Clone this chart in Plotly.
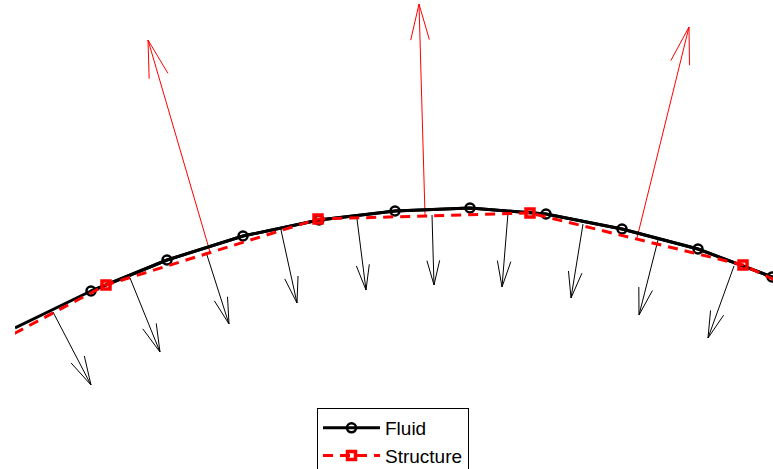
import numpy as np
import plotly.graph_objects as go

# ---- data (x to the right, y upwards) ----
fluid_x = [0.15, 0.91, 1.67, 2.43, 3.19, 3.95, 4.70, 5.46, 6.22, 6.98, 7.72, 8.48]
fluid_y = [1.41, 1.78, 2.09, 2.33, 2.49, 2.58, 2.61, 2.55, 2.40, 2.20, 1.92, 1.57]

struct_x = [-1.06, 1.06, 3.18, 5.30, 7.43, 9.55]
struct_y = [0.72, 1.84, 2.50, 2.56, 2.04, 1.04]

# fluid loads (black arrows): tails and vectors
load_x = [0.53, 1.30, 2.06, 2.81, 3.57, 4.32, 5.08, 5.83, 6.58, 7.34]
load_y = [1.57, 1.91, 2.17, 2.39, 2.50, 2.54, 2.56, 2.45, 2.29, 2.03]
load_u = [0.38, 0.30, 0.23, 0.16, 0.09, 0.02, -0.06, -0.12, -0.19, -0.26]
load_v = [-0.73, -0.74, -0.72, -0.73, -0.71, -0.70, -0.74, -0.74, -0.75, -0.72]

# structure forces (red arrows): tails and vectors
force_x = [2.10, 4.25, 6.37]
force_y = [2.17, 2.54, 2.31]
force_u = [-0.62, -0.06, 0.52]
force_v = [2.12, 2.11, 2.11]

X_RANGE = [0.15, 7.73]
Y_RANGE = [0.0, 4.69]


def quiver_path(xs, ys, us, vs, alpha, beta):
    px, py = [], []
    for x, y, u, v in zip(xs, ys, us, vs):
        tx, ty = x + u, y + v
        px += [x, tx, None]
        py += [y, ty, None]
        b1x = tx - alpha * (u + beta * v)
        b1y = ty - alpha * (v - beta * u)
        b2x = tx - alpha * (u - beta * v)
        b2y = ty - alpha * (v + beta * u)
        px += [b1x, tx, b2x, None]
        py += [b1y, ty, b2y, None]
    return px, py


fig = go.Figure()

lx, ly = quiver_path(load_x, load_y, load_u, load_v, 0.35, 0.26)
fig.add_trace(go.Scatter(x=lx, y=ly, mode="lines", line=dict(color="black", width=1),
                         showlegend=False, hoverinfo="skip"))
fx, fy = quiver_path(force_x, force_y, force_u, force_v, 0.17, 0.26)
fig.add_trace(go.Scatter(x=fx, y=fy, mode="lines", line=dict(color="red", width=1),
                         showlegend=False, hoverinfo="skip"))

# fluid line (full) + markers on interior nodes
fig.add_trace(go.Scatter(x=fluid_x, y=fluid_y, mode="lines",
                         line=dict(color="black", width=3),
                         showlegend=False, hoverinfo="skip"))
fig.add_trace(go.Scatter(x=fluid_x[1:], y=fluid_y[1:], mode="lines+markers", name="Fluid",
                         line=dict(color="black", width=3),
                         marker=dict(symbol="circle-open", size=9, color="black",
                                     line=dict(color="black", width=2.5))))
fig.add_trace(go.Scatter(x=struct_x, y=struct_y, mode="lines+markers", name="Structure",
                         line=dict(color="red", width=3, dash="10px,7px"),
                         marker=dict(symbol="square-open", size=8, color="red",
                                     line=dict(color="red", width=3.5))))

W, H = 773, 469
ml = 15
fig.update_layout(
    width=W, height=H,
    margin=dict(l=ml, r=0, t=0, b=0, autoexpand=False),
    paper_bgcolor="white", plot_bgcolor="white",
    xaxis=dict(range=X_RANGE, visible=False, showgrid=False, zeroline=False),
    yaxis=dict(range=Y_RANGE, visible=False, showgrid=False, zeroline=False),
    showlegend=True,
    legend=dict(x=(317 - ml) / (W - ml), y=(H - 408) / H, xanchor="left", yanchor="top",
                bgcolor="white", bordercolor="black", borderwidth=1,
                font=dict(family="Liberation Sans, Arial, sans-serif", size=19, color="black"),
                itemwidth=57, tracegroupgap=0),
)

fig.write_html("out.html")
